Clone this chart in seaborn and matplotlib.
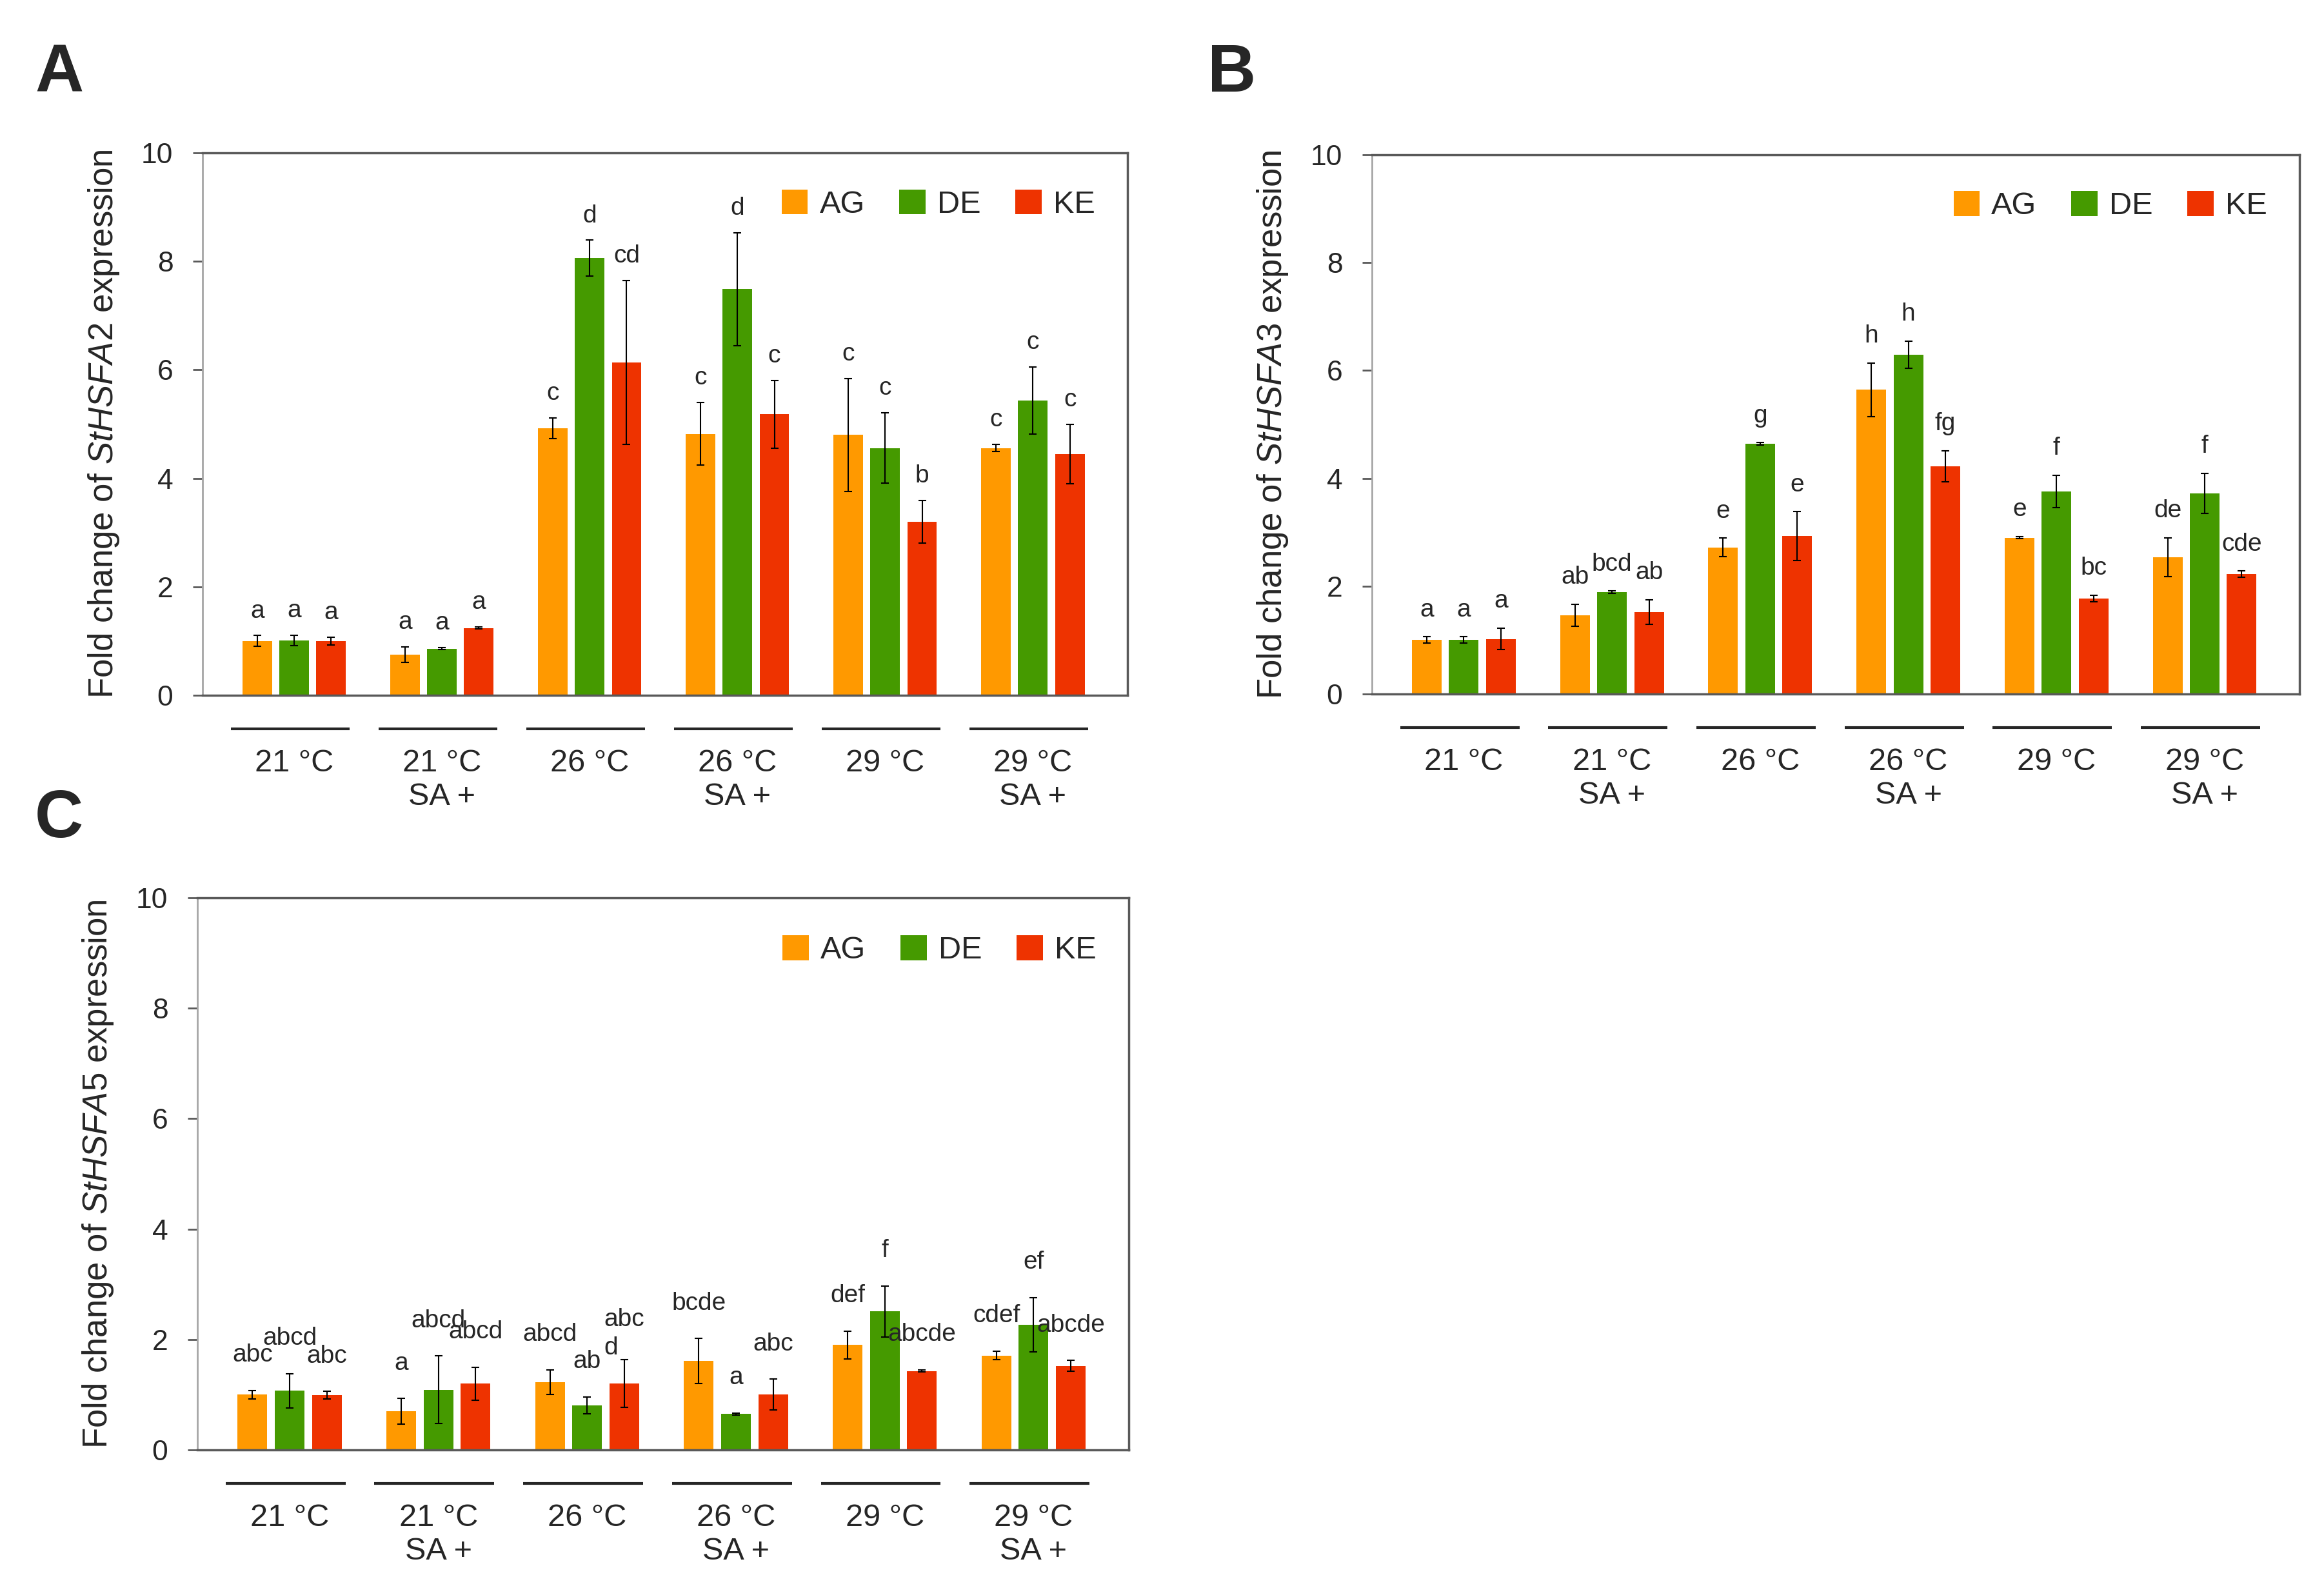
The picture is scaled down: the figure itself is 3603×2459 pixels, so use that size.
import numpy as np
import pandas as pd
import matplotlib
matplotlib.use('Agg')
import matplotlib.pyplot as plt
import matplotlib.transforms as mtransforms
import seaborn as sns

# categories
groups = ['21 °C', '21 °C\nSA +', '26 °C', '26 °C\nSA +', '29 °C', '29 °C\nSA +']
lines = ['AG', 'DE', 'KE']
colors = ['#FF9900', '#459A00', '#EE3300']

# panel A - StHSFA2
a_ag = [1.00, 0.75, 4.92, 4.82, 4.80, 4.56]
a_de = [1.01, 0.86, 8.06, 7.49, 4.56, 5.43]
a_ke = [1.00, 1.24, 6.14, 5.18, 3.20, 4.45]
a_ag_sd = [0.10, 0.14, 0.19, 0.58, 1.04, 0.07]
a_de_sd = [0.10, 0.02, 0.33, 1.04, 0.65, 0.62]
a_ke_sd = [0.07, 0.02, 1.51, 0.62, 0.39, 0.55]
a_let = [['a', 'a', 'c', 'c', 'c', 'c'],
         ['a', 'a', 'd', 'd', 'c', 'c'],
         ['a', 'a', 'cd', 'c', 'b', 'c']]

# panel B - StHSFA3
b_ag = [1.00, 1.46, 2.72, 5.64, 2.90, 2.54]
b_de = [1.00, 1.89, 4.64, 6.29, 3.76, 3.72]
b_ke = [1.02, 1.52, 2.93, 4.22, 1.77, 2.22]
b_ag_sd = [0.06, 0.20, 0.17, 0.50, 0.02, 0.36]
b_de_sd = [0.06, 0.02, 0.02, 0.25, 0.30, 0.37]
b_ke_sd = [0.20, 0.23, 0.45, 0.29, 0.06, 0.06]
b_let = [['a', 'ab', 'e', 'h', 'e', 'de'],
         ['a', 'bcd', 'g', 'h', 'f', 'f'],
         ['a', 'ab', 'e', 'fg', 'bc', 'cde']]

# panel C - StHSFA5
c_ag = [1.00, 0.70, 1.23, 1.61, 1.90, 1.71]
c_de = [1.07, 1.09, 0.81, 0.65, 2.51, 2.27]
c_ke = [0.99, 1.20, 1.20, 1.00, 1.43, 1.52]
c_ag_sd = [0.08, 0.23, 0.22, 0.41, 0.25, 0.08]
c_de_sd = [0.31, 0.61, 0.15, 0.02, 0.46, 0.49]
c_ke_sd = [0.07, 0.30, 0.43, 0.28, 0.02, 0.10]
c_let = [['abc', 'a', 'abcd', 'bcde', 'def', 'cdef'],
         ['abcd', 'abcd', 'ab', 'a', 'f', 'ef'],
         ['abc', 'abcd', 'abc\nd', 'abc', 'abcde', 'abcde']]

W, H = 3603, 2459

sns.set_theme(style='white')
plt.rcParams['font.family'] = ['Liberation Sans', 'DejaVu Sans']
plt.rcParams['mathtext.fontset'] = 'custom'
plt.rcParams['mathtext.rm'] = 'Liberation Sans'
plt.rcParams['mathtext.it'] = 'Liberation Sans:italic'

fig = plt.figure(figsize=(W / 100, H / 100), dpi=100)


def draw_panel(rect, means, sds, letters, gene, off):
    ax = fig.add_axes(rect)
    df = pd.DataFrame({
        'group': groups * 3,
        'line': np.repeat(lines, len(groups)),
        'value': np.concatenate(means),
    })
    sns.barplot(data=df, x='group', y='value', hue='line', order=groups,
                hue_order=lines, palette=colors, width=0.75, gap=0.2,
                errorbar=None, saturation=1, linewidth=0, ax=ax)
    bars = list(ax.containers[:3])
    for j, cont in enumerate(bars):
        for i, bar in enumerate(cont):
            x = bar.get_x() + bar.get_width() / 2
            m, s = means[j][i], sds[j][i]
            ax.errorbar(x, m, yerr=s, color='black', lw=1.5, capsize=4,
                        capthick=1.5, zorder=3)
            lab = letters[j][i]
            y = m + s + (0.1 if '\n' in lab else off)
            ax.text(x, y, lab, ha='center', va='baseline', fontsize=28,
                    multialignment='left', linespacing=1.3)

    ax.set_ylim(0, 10)
    ax.set_yticks(range(0, 11, 2))
    ax.set_xlim(-0.62, 5.64)
    ax.set_xlabel('')
    ax.set_ylabel('Fold change of $\\it{' + gene + '}$ expression', fontsize=38)
    ax.yaxis.set_label_coords(-0.088, 0.5)
    ax.tick_params(axis='y', left=True, direction='out', length=10.8, width=2,
                   color='#595959', pad=22, labelsize=32)
    ax.tick_params(axis='x', bottom=False, length=0, pad=60, labelsize=35)

    for s in ['top', 'right', 'bottom']:
        ax.spines[s].set_color('#595959')
        ax.spines[s].set_linewidth(2.5)
    ax.spines['left'].set_color('#A6A6A6')
    ax.spines['left'].set_linewidth(2)

    # group underlines below the axis
    trans = mtransforms.blended_transform_factory(ax.transData, ax.transAxes)
    yl = -52 / (rect[3] * H)
    for i in range(len(groups)):
        ax.plot([i - 0.43, i + 0.375], [yl, yl], transform=trans,
                clip_on=False, color='#262626', lw=3, solid_capstyle='butt')

    h, l = ax.get_legend_handles_labels()
    ax.legend(h, l, ncol=3, loc='center right', bbox_to_anchor=(0.965, 0.905),
              frameon=False, fontsize=35, handlelength=0.84, handleheight=0.84,
              handletextpad=0.37, columnspacing=1.1, borderpad=0,
              borderaxespad=0)
    return ax


draw_panel([314 / W, 1 - 1078 / H, 1434 / W, 841 / H],
           [a_ag, a_de, a_ke], [a_ag_sd, a_de_sd, a_ke_sd], a_let, 'StHSFA2', 0.33)
draw_panel([2127 / W, 1 - 1076 / H, 1438 / W, 836 / H],
           [b_ag, b_de, b_ke], [b_ag_sd, b_de_sd, b_ke_sd], b_let, 'StHSFA3', 0.38)
draw_panel([306 / W, 1 - 2248 / H, 1444 / W, 856 / H],
           [c_ag, c_de, c_ke], [c_ag_sd, c_de_sd, c_ke_sd], c_let, 'StHSFA5', 0.52)

fig.text(54 / W, 1 - 142 / H, 'A', fontsize=75, fontweight='bold', va='baseline')
fig.text(1872 / W, 1 - 142 / H, 'B', fontsize=75, fontweight='bold', va='baseline')
fig.text(54 / W, 1 - 1298 / H, 'C', fontsize=75, fontweight='bold', va='baseline')

fig.savefig('out.png', dpi=100, facecolor='white')
